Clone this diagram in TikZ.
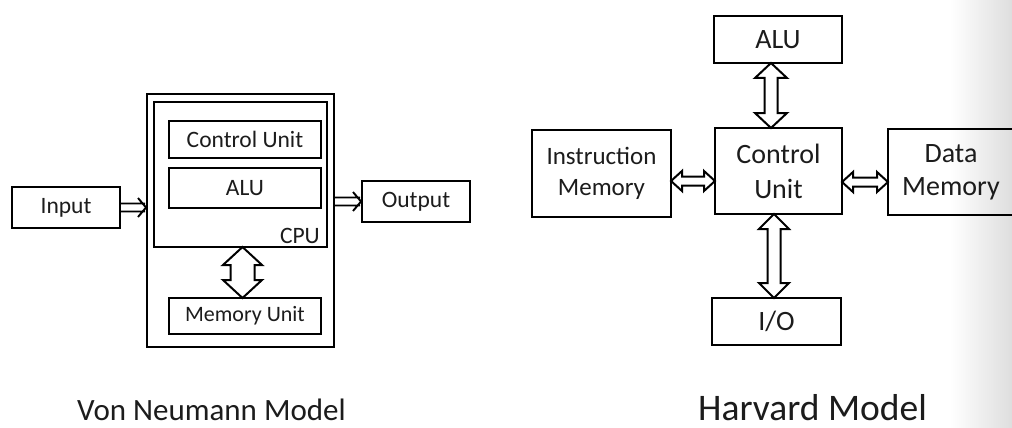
\documentclass[tikz,border=0pt]{standalone}
\usepackage{fontspec}
\setmainfont{Carlito}
\usetikzlibrary{calc}
\definecolor{ink}{HTML}{1C1C1C}
\tikzset{
  box/.style={draw=black, line width=2.6pt, rectangle, inner sep=0pt, outer sep=0pt, text=ink, align=center},
  harrow/.style={draw=black, fill=white, line width=2pt, line join=miter},
  thinarrow/.style={draw=black, line width=1.9pt},
  vnfont/.style={font=\fontsize{23.5}{28}\selectfont},
  hvfont/.style={font=\fontsize{28}{34}\selectfont},
}
% vertical hollow double arrow: #1 top coord, #2 bottom coord, #3 x shift, #4 half head, #5 half shaft, #6 head length
\newcommand\vdarr[6]{%
 \path[harrow] let \p1=(#1), \p2=(#2) in
 (\x1+#3,\y1) -- (\x1+#3+#4,\y1-#6) -- (\x1+#3+#5,\y1-#6) -- (\x1+#3+#5,\y2+#6) -- (\x1+#3+#4,\y2+#6) -- (\x1+#3,\y2)
 -- (\x1+#3-#4,\y2+#6) -- (\x1+#3-#5,\y2+#6) -- (\x1+#3-#5,\y1-#6) -- (\x1+#3-#4,\y1-#6) -- cycle;}
% horizontal hollow double arrow: #1 left coord, #2 right coord, #3 y shift (canvas), #4 half head, #5 half shaft, #6 head length
\newcommand\hdarr[6]{%
 \path[harrow] let \p1=(#1), \p2=(#2) in
 (\x1,\y1+#3) -- (\x1+#6,\y1+#3+#4) -- (\x1+#6,\y1+#3+#5) -- (\x2-#6,\y1+#3+#5) -- (\x2-#6,\y1+#3+#4) -- (\x2,\y1+#3)
 -- (\x2-#6,\y1+#3-#4) -- (\x2-#6,\y1+#3-#5) -- (\x1+#6,\y1+#3-#5) -- (\x1+#6,\y1+#3-#4) -- cycle;}
% thin implies arrow: #1 from, #2 to (horizontal, at y of #2)
\newcommand\thinarr[2]{%
 \path[thinarrow] let \p1=(#1), \p2=(#2) in
 (\x1,\y2+4pt) -- (\x2-2pt,\y2+4pt) (\x1,\y2-4pt) -- (\x2-2pt,\y2-4pt)
 (\x2-9pt,\y2+9.5pt) -- (\x2-1pt,\y2) -- (\x2-9pt,\y2-9.5pt);}
\begin{document}
\begin{tikzpicture}[x=1pt,y=-1pt]
\useasboundingbox (0,0) rectangle (1012,428);
\clip (0,0) rectangle (1012,428);
\fill[white] (0,0) rectangle (1012,428);
\shade[left color=white, right color=black!13] (950,0) rectangle (1012,428);

% ---- Von Neumann model ----
\node[box, minimum width=187pt, minimum height=253pt] (cpu) at (240.5,220.5) {};
\node[box, minimum width=173pt, minimum height=145pt] (inner) at (240.5,174.5) {};
\node[box, vnfont, minimum width=152pt, minimum height=37pt] (vcu) at (245,139.5) {Control Unit};
\node[box, vnfont, minimum width=152pt, minimum height=40pt] (valu) at (245,188) {ALU};
\node[box, font=\fontsize{22}{26}\selectfont, minimum width=152pt, minimum height=36pt] (vmem) at (245,316) {Memory Unit};
\node[box, vnfont, minimum width=108pt, minimum height=41pt] (vin) at (66,207.5) {Input};
\node[box, vnfont, minimum width=108pt, minimum height=41pt] (vout) at (416,201.5) {Output};
\node[vnfont, text=ink, anchor=base east, inner sep=0pt] (cpulbl) at ($(inner.south east)+(-7,-4)$) {CPU};

\thinarr{vin.east}{cpu.west |- vin.east}
\thinarr{cpu.east |- vout.west}{vout.west}
\vdarr{inner.south}{vmem.north}{2pt}{19.5pt}{12pt}{18pt}

\node[font=\fontsize{31}{36}\selectfont, text=ink, anchor=base west, inner sep=0pt] (vntitle) at (77,420) {Von Neumann Model};

% ---- Harvard model ----
\node[box, font=\fontsize{28}{34}\selectfont, minimum width=128pt, minimum height=47pt] (halu) at (778,39.5) {ALU};
\node[box, font=\fontsize{28}{35}\selectfont, minimum width=127pt, minimum height=86pt] (hcu) at (778.5,171) {Control\\Unit};
\node[box, font=\fontsize{25}{31}\selectfont, minimum width=139pt, minimum height=87pt] (him) at (601.5,173.5) {Instruction\\Memory};
\node[box, font=\fontsize{28}{33}\selectfont, minimum width=126pt, minimum height=86pt] (hdm) at (951,172) {Data\\Memory};
\node[box, font=\fontsize{28}{34}\selectfont, minimum width=129pt, minimum height=47pt] (hio) at (776.5,321.5) {I/O};

\vdarr{halu.south}{hcu.north}{-7pt}{16pt}{6.5pt}{15pt}
\vdarr{hcu.south}{hio.north}{-4.5pt}{15pt}{6.5pt}{15pt}
\hdarr{him.east}{hcu.west}{-7.5pt}{10pt}{4.5pt}{11pt}
\hdarr{hcu.east}{hdm.west}{-11pt}{10pt}{4.5pt}{11pt}

\node[font=\fontsize{37.5}{42}\selectfont, text=ink, anchor=base west, inner sep=0pt] (hvtitle) at (698,420) {Harvard Model};
\end{tikzpicture}
\end{document}
